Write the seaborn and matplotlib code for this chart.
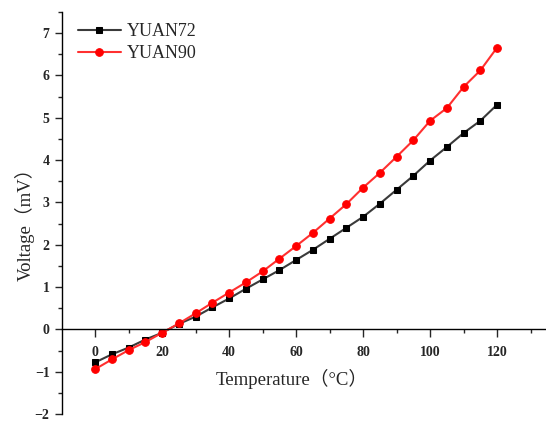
import numpy as np
import pandas as pd
import matplotlib
matplotlib.use("Agg")
import matplotlib.pyplot as plt
import seaborn as sns
from matplotlib.ticker import MultipleLocator

temperature = list(range(0, 125, 5))
yuan72 = [-0.78, -0.59, -0.43, -0.24, -0.08, 0.13, 0.30, 0.52, 0.73, 0.96, 1.18, 1.40,
          1.64, 1.88, 2.14, 2.40, 2.66, 2.97, 3.30, 3.63, 3.99, 4.31, 4.64, 4.93, 5.31]
yuan90 = [-0.94, -0.71, -0.49, -0.30, -0.08, 0.14, 0.38, 0.63, 0.87, 1.11, 1.37, 1.67,
          1.97, 2.28, 2.62, 2.96, 3.35, 3.70, 4.08, 4.47, 4.93, 5.23, 5.73, 6.12, 6.66]
series_names = ["YUAN72", "YUAN90"]
x_ticks = [0, 20, 40, 60, 80, 100, 120]
y_ticks = [-2, -1, 0, 1, 2, 3, 4, 5, 6, 7]

df = pd.DataFrame({
    "T": temperature * 2,
    "V": yuan72 + yuan90,
    "series": [series_names[0]] * len(temperature) + [series_names[1]] * len(temperature),
})

sns.set_style("white")
plt.rcParams["font.family"] = ["Liberation Serif", "Noto Sans CJK SC", "DejaVu Sans"]

fig = plt.figure(figsize=(5.46, 4.23), dpi=100)
ax = fig.add_axes([62 / 546, 9 / 423, 1 - 62 / 546, 402 / 423])

styles = {
    "YUAN72": dict(color="#3a3a3a", marker="s", markerfacecolor="black", markeredgecolor="black", markersize=5),
    "YUAN90": dict(color="#ff3030", marker="o", markerfacecolor="#ff0000", markeredgecolor="#ff0000", markersize=5.5),
}
for name in series_names:
    sub = df[df["series"] == name]
    sns.lineplot(data=sub, x="T", y="V", ax=ax, label=name, linewidth=1.5, **styles[name])

ax.set_xlim(-9.9, 134.6)
ax.set_ylim(-2, 7.5)
ax.spines["top"].set_visible(False)
ax.spines["right"].set_visible(False)
ax.spines["bottom"].set_position(("data", 0))
for s in ["left", "bottom"]:
    ax.spines[s].set_color("black")
    ax.spines[s].set_linewidth(1.0)

ax.set_xticks(x_ticks)
ax.set_yticks(y_ticks)
ax.xaxis.set_minor_locator(MultipleLocator(10))
ax.yaxis.set_minor_locator(MultipleLocator(0.5))
ax.tick_params(axis="x", which="major", direction="out", length=6, width=1, pad=6, labelsize=10, bottom=True)
ax.tick_params(axis="x", which="minor", direction="out", length=3, width=1, bottom=True)
ax.tick_params(axis="y", which="major", direction="out", length=5, width=1, pad=4, labelsize=10, left=True)
ax.tick_params(axis="y", which="minor", direction="out", length=3, width=1, left=True)
for lab in ax.get_xticklabels() + ax.get_yticklabels():
    lab.set_fontweight("bold")

ax.set_xlabel("")
ax.set_ylabel("")
fig.text(292 / 546, 1 - 379 / 423, "Temperature（°C）", ha="center", va="center", fontsize=13.5)
fig.text(25 / 546, 1 - 220 / 423, "Voltage（mV）", ha="center", va="center", rotation=90, fontsize=13.5)

leg = ax.legend(loc="upper left", bbox_to_anchor=(0.01, 1.0), frameon=False, fontsize=13,
                handlelength=2.4, handletextpad=0.3, labelspacing=0.3, borderaxespad=0.2)

fig.savefig("out.png", dpi=100)
